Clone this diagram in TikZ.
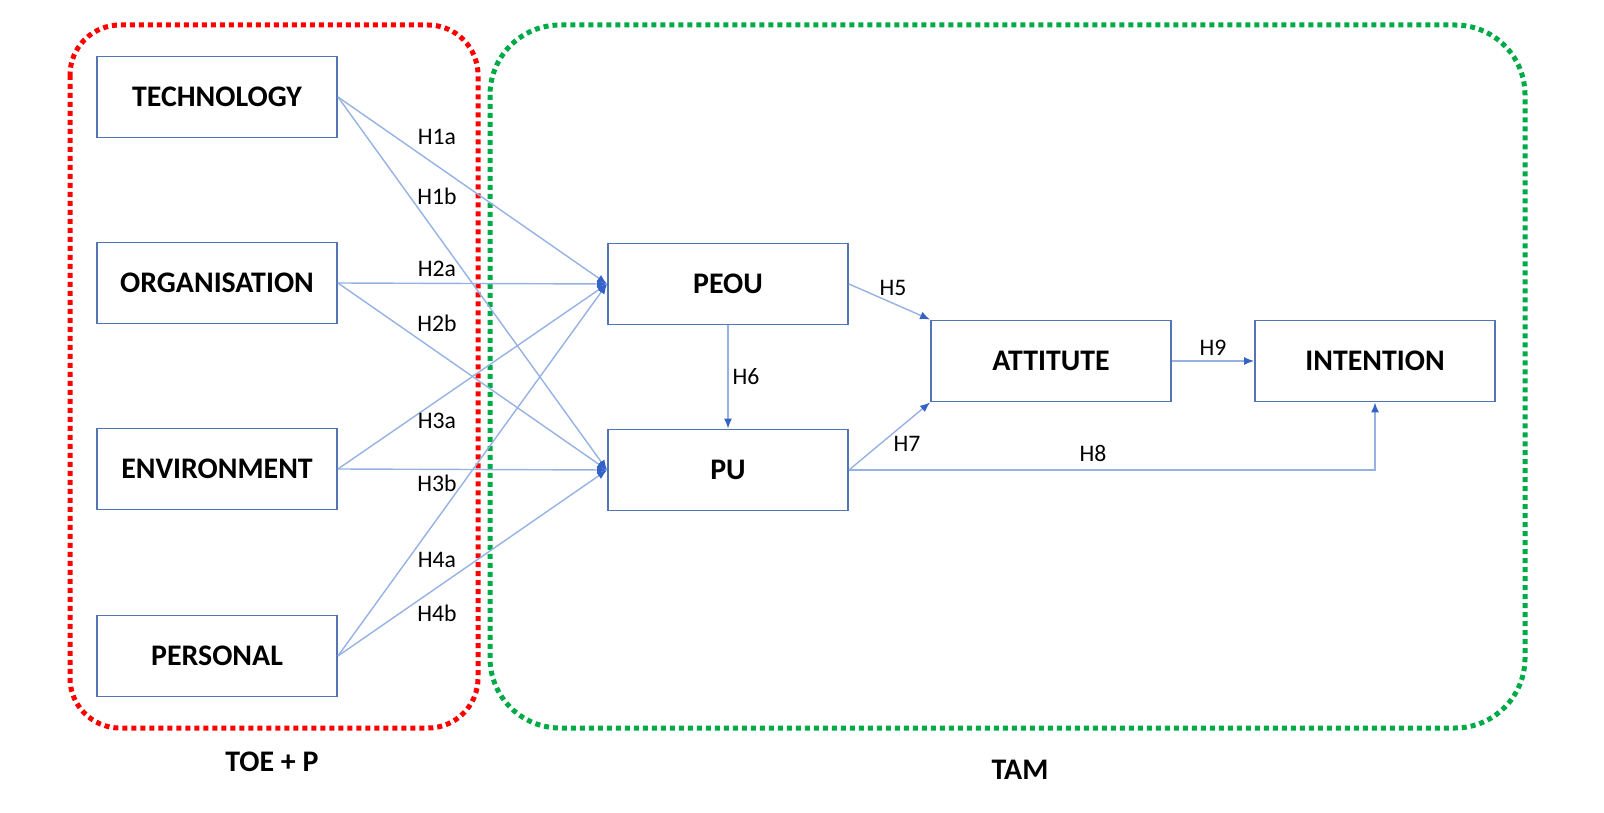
\documentclass[tikz,border=0pt]{standalone}
\usepackage{fontspec}
\setmainfont{Carlito}
\usepackage{tikz}
\usetikzlibrary{arrows.meta}
\definecolor{boxblue}{RGB}{84,116,180}
\definecolor{lineblue}{RGB}{150,178,226}
\definecolor{tipblue}{RGB}{52,98,200}
\definecolor{toered}{RGB}{255,0,0}
\definecolor{tamgreen}{RGB}{0,170,70}

\begin{document}
\begin{tikzpicture}[x=0.02cm, y=-0.02cm,
  construct/.style={draw=boxblue, line width=1.1pt, minimum width=4.8cm, minimum height=1.62cm, font=\fontsize{17}{20}\selectfont\bfseries},
  hyp/.style={draw=lineblue, line width=0.8pt, -{Latex[length=2mm, width=1.6mm, color=tipblue]}},
  hlabel/.style={font=\fontsize{13.5}{15}\selectfont},
  zone/.style={line width=0.1cm, dash pattern=on 0.1cm off 0.08cm}]
\useasboundingbox (0,0) rectangle (1604,813);
% the two frameworks
\draw[zone, draw=toered, rounded corners=1cm] (70,25) rectangle (478,728);
\draw[zone, draw=tamgreen, rounded corners=1.4cm] (490,25) rectangle (1525,728);
\node[font=\fontsize{17}{20}\selectfont\bfseries] (toe) at (272,762) {TOE + P};
\node[font=\fontsize{17}{20}\selectfont\bfseries] (tam) at (1020,770) {TAM};
% constructs
\node[construct] (tech) at (217,97) {TECHNOLOGY};
\node[construct] (org) at (217,283) {ORGANISATION};
\node[construct] (env) at (217,469) {ENVIRONMENT};
\node[construct] (pers) at (217,656) {PERSONAL};
\node[construct] (peou) at (728,284) {PEOU};
\node[construct] (pu) at (728,470) {PU};
\node[construct] (att) at (1051,361) {ATTITUTE};
\node[construct] (int) at (1375,361) {INTENTION};
% hypotheses
\draw[hyp] (tech.east) -- (peou.west);
\draw[hyp] (tech.east) -- (pu.west);
\draw[hyp] (org.east) -- (peou.west);
\draw[hyp] (org.east) -- (pu.west);
\draw[hyp] (env.east) -- (peou.west);
\draw[hyp] (env.east) -- (pu.west);
\draw[hyp] (pers.east) -- (peou.west);
\draw[hyp] (pers.east) -- (pu.west);
\draw[hyp] (peou) -- (pu);
\draw[hyp] (peou.east) -- (att.north west);
\draw[hyp] (pu.east) -- (att.south west);
\draw[hyp] (pu.east) -| (int.south);
\draw[hyp] (att) -- (int);
\node[hlabel] (h1a) at (437,137) {H1a};
\node[hlabel] (h1b) at (437,196) {H1b};
\node[hlabel] (h2a) at (437,269) {H2a};
\node[hlabel] (h2b) at (437,323) {H2b};
\node[hlabel] (h3a) at (437,421) {H3a};
\node[hlabel] (h3b) at (437,483) {H3b};
\node[hlabel] (h4a) at (437,560) {H4a};
\node[hlabel] (h4b) at (437,613) {H4b};
\node[hlabel] (h5) at (893,288) {H5};
\node[hlabel] (h6) at (746,377) {H6};
\node[hlabel] (h7) at (907,444) {H7};
\node[hlabel] (h8) at (1093,453) {H8};
\node[hlabel] (h9) at (1213,348) {H9};
\end{tikzpicture}
\end{document}
